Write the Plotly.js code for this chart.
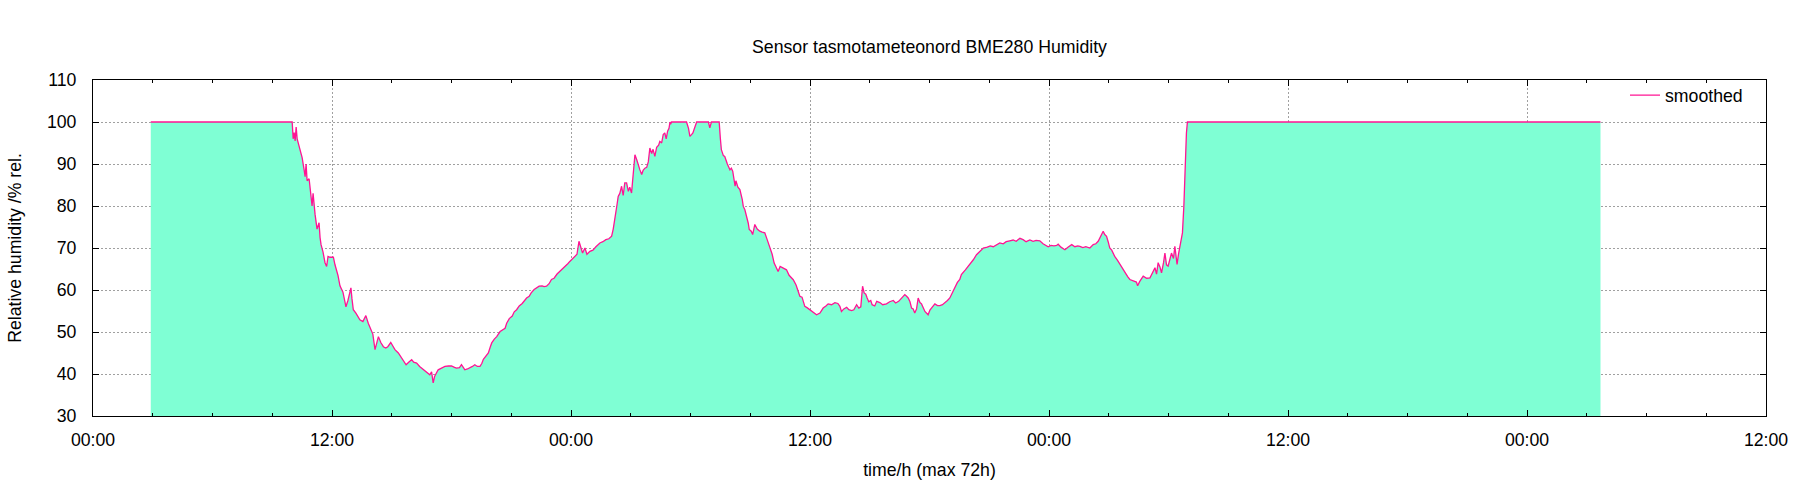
<!DOCTYPE html>
<html>
<head>
<meta charset="utf-8">
<script src="https://cdn.plot.ly/plotly-3.0.1.min.js"></script>
<style>
  html, body { margin: 0; padding: 0; background: #ffffff; }
  #chart { width: 1800px; height: 500px; }
</style>
</head>
<body>
<div id="chart"></div>
<script>
// Time in hours from the first 00:00 on the axis
const hours = [
  2.9, 10.0, 10.05, 10.1, 10.15, 10.2, 10.25, 10.3, 10.4, 10.5, 10.6, 10.65, 10.7, 10.75, 10.85, 10.9,
  11.0, 11.05, 11.1, 11.15, 11.25, 11.31, 11.35, 11.4, 11.45, 11.55, 11.65, 11.73, 11.8, 11.9,
  12.07, 12.15, 12.23, 12.3, 12.4, 12.45, 12.55, 12.65, 12.7, 12.8, 12.9, 12.95,
  13.0, 13.07, 13.2, 13.3, 13.4, 13.55, 13.7, 13.82, 13.95,
  14.05, 14.16, 14.25, 14.33, 14.45, 14.58, 14.7, 14.8, 14.95,
  15.05, 15.16, 15.33, 15.5, 15.6, 15.72, 15.85,
  16.0, 16.1, 16.25, 16.4, 16.5, 16.65, 16.75, 16.91,
  17.0, 17.08, 17.15, 17.25, 17.33, 17.5, 17.67, 17.85,
  18.0, 18.15, 18.25, 18.4, 18.5, 18.6, 18.67, 18.8, 18.92,
  19.05, 19.17, 19.3, 19.43, 19.52, 19.6, 19.75, 19.85, 19.95,
  20.02, 20.15, 20.27, 20.44, 20.6, 20.69, 20.77, 20.9,
  21.05, 21.15, 21.27, 21.4, 21.55, 21.65, 21.77, 21.9,
  22.0, 22.15, 22.27, 22.4, 22.55, 22.65, 22.77, 22.9,
  23.02, 23.15, 23.3, 23.44, 23.6, 23.75, 23.85, 23.94,
  24.1, 24.2, 24.3, 24.4, 24.5, 24.58, 24.7, 24.8, 24.95,
  25.1, 25.25, 25.45, 25.6, 25.75, 25.9,
  26.04, 26.12, 26.2, 26.3, 26.37, 26.45, 26.54, 26.62, 26.7, 26.79, 26.88, 26.95,
  27.04, 27.1, 27.15, 27.21, 27.3, 27.38, 27.46, 27.55, 27.62, 27.71, 27.8, 27.88, 27.96,
  28.05, 28.12, 28.21, 28.3, 28.4, 28.46, 28.55, 28.63, 28.71, 28.78, 28.85, 28.92, 28.97,
  29.0, 29.05, 29.8, 29.9, 29.97,
  30.05, 30.12, 30.2, 30.31, 30.9, 30.97,
  31.05, 31.44, 31.5, 31.55, 31.65, 31.72, 31.85, 31.98,
  32.05, 32.12, 32.24, 32.28, 32.38, 32.48, 32.6, 32.65, 32.73, 32.82, 32.9, 32.95,
  33.05, 33.12, 33.23, 33.35, 33.48, 33.6, 33.73, 33.85, 33.99,
  34.1, 34.2, 34.3, 34.4, 34.5, 34.65, 34.82, 34.95,
  35.07, 35.16, 35.3, 35.49, 35.6, 35.74, 35.85, 35.99,
  36.16, 36.33, 36.5, 36.66, 36.8, 36.91,
  37.08, 37.25, 37.4, 37.5, 37.58, 37.7, 37.84, 37.95,
  38.09, 38.2, 38.34, 38.45, 38.55, 38.64, 38.72, 38.8, 38.87, 38.95,
  39.05, 39.12, 39.25, 39.35, 39.51, 39.65, 39.84,
  40.0, 40.18, 40.3, 40.45, 40.6, 40.76, 40.85, 40.93,
  41.02, 41.1, 41.18, 41.26, 41.35, 41.43, 41.52, 41.6, 41.77, 41.85, 41.93,
  42.02, 42.1, 42.27, 42.4, 42.52, 42.65, 42.77, 42.9,
  43.02, 43.15, 43.27, 43.4, 43.52, 43.6, 43.8,
  44.03, 44.2, 44.36, 44.55, 44.7, 44.9,
  45.05, 45.2, 45.35, 45.53, 45.7, 45.85,
  46.03, 46.2, 46.35, 46.54, 46.7, 46.85,
  47.04, 47.2, 47.35, 47.54, 47.7, 47.85, 47.96,
  48.1, 48.25, 48.38, 48.46, 48.6, 48.8, 48.95,
  49.14, 49.3, 49.45, 49.55, 49.7, 49.85,
  50.05, 50.22, 50.35, 50.47, 50.6, 50.72, 50.8, 50.89, 50.97,
  51.05, 51.15, 51.3, 51.45, 51.56, 51.7, 51.81, 51.95,
  52.06, 52.2, 52.39, 52.45, 52.55, 52.73, 52.9,
  53.07, 53.2, 53.32, 53.4, 53.48, 53.57, 53.65, 53.75, 53.82, 53.9, 53.98,
  54.08, 54.15, 54.25, 54.32, 54.38, 54.43, 54.5, 54.57, 54.64, 54.7, 54.77, 54.84, 54.9, 54.95,
  75.69
];

// Relative humidity in %
const humidity = [
  100, 100, 96, 97.5, 95.5, 98.8, 96, 95, 93, 91.5, 88.6, 87, 90, 86, 86.5, 84.5,
  80, 83, 79.5, 78, 74.5, 75.5, 76, 72.5, 70.8, 69, 66.5, 65.6, 68, 67.8,
  67.8, 66, 64.8, 63.5, 61, 60.5, 59.5, 57.2, 56, 57.5, 59.5, 60.5,
  58, 55.3, 54.5, 53.5, 52.9, 52.5, 53.9, 52.1, 50.5,
  49.5, 45.8, 47.5, 48.9, 47.5, 46.5, 46.2, 46.5, 47.5,
  46.5, 45.8, 45, 43.8, 43.2, 42.2, 42.8,
  43.4, 42.8, 42.6, 41.8, 41.4, 40.8, 40.6, 39.8,
  40.5, 37.9, 39.4, 40.2, 41, 41.4, 41.8, 41.9,
  41.9, 41.6, 41.4, 41.5, 42.2, 41.5, 41, 41.2, 41.4,
  41.8, 42.2, 41.8, 41.8, 42.5, 43.5, 44.3, 45, 46.5,
  47.4, 48.3, 48.9, 50.1, 50.5, 50.9, 52.1, 53.2,
  53.8, 54.8, 55.3, 56.2, 56.8, 57.5, 58.1, 58.5,
  59.3, 60.1, 60.5, 60.9, 61, 60.8, 60.9, 61.5,
  62.5, 62.8, 63.8, 64.4, 65.2, 65.8, 66.3, 66.8,
  67.5, 68, 68.5, 71.6, 70.3, 68.8, 70, 68.5, 69.2,
  69.5, 70.3, 71.2, 71.5, 72, 72.2,
  72.8, 74.5, 77.5, 80, 82.3, 83, 84.7, 82.5, 85.5, 85.5, 83.5, 84.5,
  83.1, 86, 89, 92.2, 91, 89.5, 88.6, 87.5, 88.5, 89, 89.2, 90.5, 93.8,
  92.5, 93.5, 91.8, 94, 94.5, 95.4, 95, 97, 97.4, 96, 97.8, 98.5, 100,
  99.5, 100, 100, 98.5, 96.6,
  97, 97.4, 98.5, 100, 100, 98.6,
  100, 100, 96, 93.4, 92, 91.8, 90, 88.6,
  89, 88.3, 84.7, 86, 84.5, 83.9, 81.5, 79.9, 79.1, 77.5, 75.9, 74.4,
  74, 73.2, 75.6, 74.5, 74, 73.8, 73.6, 72, 70.2,
  68.5, 66.4, 65.5, 64.4, 65.6, 65.2, 64.8, 63.5,
  62.8, 62.45, 61.2, 58.5, 58.3, 56.1, 55.8, 55.3,
  54.9, 54.1, 54.5, 55.7, 56.2, 56.7,
  56.5, 57, 56.8, 56.1, 54.9, 55.5, 55.9, 55.3,
  55.1, 55.3, 56.5, 55.7, 56, 60.9, 59.3, 59, 58.1, 57.2,
  57.5, 56.5, 56.2, 57.3, 57, 56.5, 56.7,
  57.2, 57.5, 56.9, 57.3, 58, 58.9, 58.5, 58.1,
  57.2, 55.7, 55.5, 54.5, 55.5, 58.1, 57, 56.7, 54.9, 54.5, 54.1,
  55.2, 55.7, 56.7, 56.3, 56.3, 56.5, 56.9, 57.5,
  58.1, 59.5, 60.5, 61.8, 62.5, 63.7, 64.8,
  66.1, 67.2, 68.4, 69.3, 70, 70.2,
  70.5, 70.3, 70.8, 71.2, 71, 71.5,
  71.7, 71.9, 71.6, 72.3, 72, 71.5,
  71.9, 71.6, 71.8, 71.7, 71, 70.5, 70.3,
  70.6, 70.5, 70.6, 70.9, 70.2, 69.6, 70.2,
  70.8, 70.3, 70.5, 70.4, 70.1, 70.3,
  70, 70.8, 71, 71.6, 73, 74, 73.2, 72.8, 71.5,
  70, 69.5, 68, 67, 66.1, 65, 64.1, 63.2,
  62.5, 62.2, 61.9, 61, 62, 63.3, 62.8,
  62.9, 64, 65.3, 63.8, 66.5, 65.5, 64.1, 66.5, 68.8, 66, 65.7,
  67.5, 68.8, 67.5, 70.4, 68, 66.1, 68.5, 70.4, 71.5, 73.6, 79.9, 91, 97.4, 100,
  100
];

const tickHours = [0, 12, 24, 36, 48, 60, 72, 84];
const tickLabels = ["00:00", "12:00", "00:00", "12:00", "00:00", "12:00", "00:00", "12:00"];
const yTicks = [30, 40, 50, 60, 70, 80, 90, 100, 110];

const FONT = "Liberation Sans, Arial, Helvetica, sans-serif";
const FS = 17.7;

const traces = [
  {
    x: hours, y: humidity, type: "scatter", mode: "lines",
    line: { width: 0, color: "rgba(0,0,0,0)" },
    fill: "tozeroy", fillcolor: "#7fffd4",
    showlegend: false, hoverinfo: "skip", name: "raw"
  },
  {
    x: hours, y: humidity, type: "scatter", mode: "lines",
    line: { width: 1.3, color: "#ff1493" },
    name: "smoothed"
  }
];

const layout = {
  width: 1800, height: 500,
  margin: { l: 93, r: 34, t: 80, b: 84, pad: 0 },
  paper_bgcolor: "#ffffff", plot_bgcolor: "#ffffff",
  font: { family: FONT, size: FS, color: "#000000" },
  title: {
    text: "Sensor tasmotameteonord BME280 Humidity",
    font: { family: FONT, size: FS, color: "#000000" },
    x: 0.5, xref: "paper", xanchor: "center",
    y: 1 - 46.7 / 500, yref: "container", yanchor: "middle"
  },
  xaxis: {
    range: [0, 84], tickmode: "array", tickvals: tickHours, ticktext: tickLabels,
    showline: true, linecolor: "#000000", linewidth: 1, mirror: "ticks",
    ticks: "inside", ticklen: 6, tickcolor: "#000000", tickwidth: 1,
    showgrid: true, gridcolor: "#a0a0a0", gridwidth: 1, griddash: "2px,2px",
    zeroline: false, ticklabelstandoff: 8,
    minor: { tickmode: "linear", tick0: 0, dtick: 3, ticks: "inside", ticklen: 3, tickcolor: "#000000", showgrid: false },
    tickfont: { family: FONT, size: FS, color: "#000000" },
    title: { text: "time/h (max 72h)", font: { family: FONT, size: FS, color: "#000000" }, standoff: 14 },
    automargin: false
  },
  yaxis: {
    range: [30, 110], tickmode: "array", tickvals: yTicks,
    showline: true, linecolor: "#000000", linewidth: 1, mirror: "ticks",
    ticks: "inside", ticklen: 6, tickcolor: "#000000", tickwidth: 1,
    showgrid: true, gridcolor: "#a0a0a0", gridwidth: 1, griddash: "2px,2px",
    zeroline: false, ticklabelstandoff: 12,
    tickfont: { family: FONT, size: FS, color: "#000000" },
    title: { text: "Relative humidity /% rel.", font: { family: FONT, size: FS, color: "#000000" }, standoff: 20 },
    automargin: false
  },
  showlegend: true,
  legend: {
    x: (1748 - 93) / 1673, xanchor: "right",
    y: (416 - 95.7) / 336, yanchor: "middle",
    bgcolor: "rgba(0,0,0,0)", borderwidth: 0,
    font: { family: FONT, size: FS, color: "#000000" }
  }
};

Plotly.newPlot("chart", traces, layout, { displayModeBar: false, staticPlot: true });
</script>
</body>
</html>
